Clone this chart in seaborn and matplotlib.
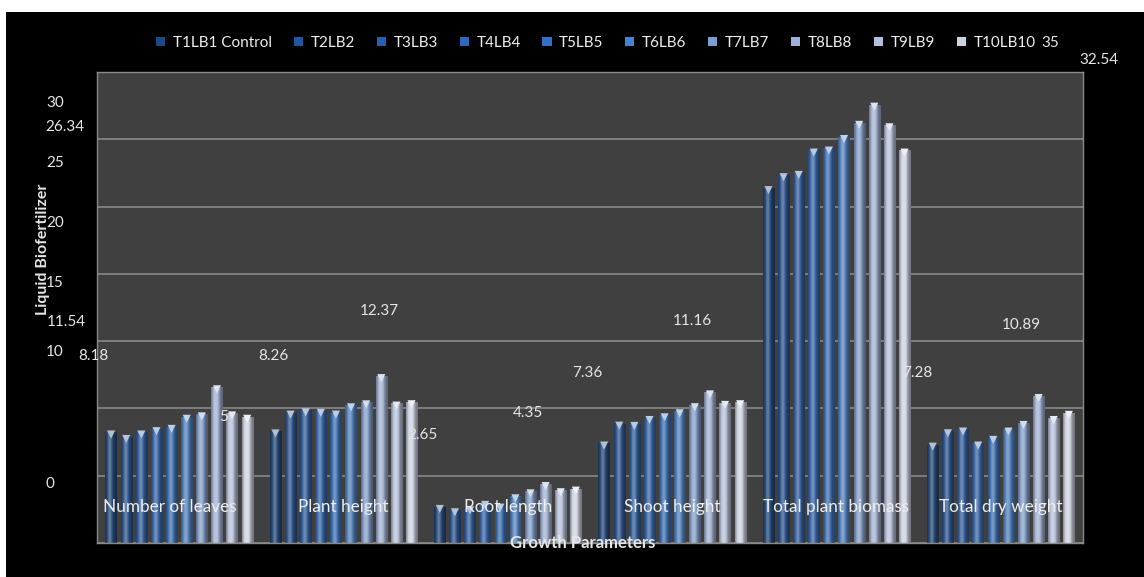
import numpy as np
import pandas as pd
import matplotlib
matplotlib.use("Agg")
import matplotlib.pyplot as plt
from matplotlib.patches import Rectangle, Patch
import matplotlib.transforms as mtransforms
import seaborn as sns

# ---- data -------------------------------------------------------------
treatments = ["T1LB1 Control", "T2LB2", "T3LB3", "T4LB4", "T5LB5",
              "T6LB6", "T7LB7", "T8LB8", "T9LB9", "T10LB10"]
parameters = ["Number of leaves", "Plant height", "Root length",
              "Shoot height", "Total plant biomass", "Total dry weight"]

number_of_leaves = [8.18, 7.85, 8.18, 8.43, 8.60, 9.35, 9.53, 11.54, 9.60, 9.35]
plant_height = [8.26, 9.66, 9.83, 9.79, 9.66, 10.20, 10.42, 12.37, 10.33, 10.43]
root_length = [2.65, 2.40, 2.55, 2.95, 2.75, 3.44, 3.81, 4.35, 3.89, 4.01]
shoot_height = [7.36, 8.84, 8.82, 9.26, 9.46, 9.76, 10.21, 11.16, 10.38, 10.43]
total_biomass = [26.34, 27.30, 27.47, 29.13, 29.28, 30.14, 31.19, 32.54, 31.01, 29.13]
total_dry_weight = [7.28, 8.27, 8.40, 7.36, 7.78, 8.40, 8.89, 10.89, 9.26, 9.64]

axis_numbers = ["30", "25", "20", "15", "10", "5", "0", "35"]

series_colors = ["#1d4a86", "#2456a0", "#295fae", "#2c67ba", "#3170c4",
                 "#4683ce", "#7c9ed3", "#9db1da", "#b3c0de", "#cbd2e3"]

values_by_param = [number_of_leaves, plant_height, root_length,
                   shoot_height, total_biomass, total_dry_weight]

df = pd.DataFrame(
    [(p, t, v[i]) for p, v in zip(parameters, values_by_param)
     for i, t in enumerate(treatments)],
    columns=["parameter", "treatment", "value"],
)

# ---- figure -----------------------------------------------------------
W, H = 1144, 577
plt.rcParams["font.family"] = ["Lato", "DejaVu Sans"]
fig = plt.figure(figsize=(W / 100, H / 100), dpi=100)
fig.patch.set_facecolor("white")
fig.add_artist(Rectangle((6 / W, 0), 1, 1 - 12 / H, transform=fig.transFigure,
                         facecolor="black", edgecolor="none", zorder=-5))


def fx(px):
    return px / W


def fy(py):
    return 1 - py / H


ax = fig.add_axes([fx(97), fy(543), fx(1083) - fx(97), fy(72) - fy(543)])
ax.set_facecolor("#404040")

sns.barplot(data=df, x="parameter", y="value", hue="treatment",
            hue_order=treatments, order=parameters, palette=series_colors,
            width=0.92, gap=0.25, legend=False, ax=ax, zorder=2)

ax.set_ylim(0, 35)
ax.set_xlim(-0.5, len(parameters) - 0.5)
ax.set_yticks(np.arange(0, 36, 5))
ax.set_yticklabels([])
ax.set_xticks(range(len(parameters)))
ax.set_xticklabels([])
ax.tick_params(axis="both", length=0)
ax.grid(axis="y", color="#8f8f8f", linewidth=1.1, zorder=0)
ax.set_axisbelow(True)
for s in ax.spines.values():
    s.set_color("#8a8a8a")
    s.set_linewidth(1.0)
ax.set_xlabel("")
ax.set_ylabel("")


# cylinder-like shading on every bar, with a light cap marker on top
def shade(rgb, f):
    rgb = np.asarray(rgb)
    if f >= 0:
        return rgb + (1 - rgb) * f
    return rgb * (1 + f)


t = np.linspace(0, 1, 40)
profile = -0.45 + 0.72 * np.exp(-((t - 0.4) / 0.3) ** 2)
for patch in list(ax.patches):
    h = patch.get_height()
    if not np.isfinite(h) or h <= 0:
        continue
    x0, w = patch.get_x(), patch.get_width()
    base = np.array(patch.get_facecolor()[:3])
    img = np.array([shade(base, f) for f in profile])[None, :, :]
    img = np.clip(img, 0, 1)
    ax.imshow(img, extent=(x0, x0 + w, 0, h), aspect="auto",
              interpolation="bilinear", zorder=2.5)
    patch.set_facecolor("none")
    ax.scatter([x0 + w / 2], [h - 0.12], marker="v", s=34,
               color=shade(base, 0.65), edgecolor="none", zorder=3)

ax.set_ylim(0, 35)
ax.set_xlim(-0.5, len(parameters) - 0.5)

# category names sit inside the plot, over the bars
cat_tf = mtransforms.blended_transform_factory(ax.transData, fig.transFigure)
cat_shift = [-0.06, 0, 0, 0, 0, 0]
for i, name in enumerate(parameters):
    ax.text(i + cat_shift[i], fy(507), name, transform=cat_tf, color="#eeeeee",
            fontsize=12.3, ha="center", va="center", zorder=6)

# ---- legend -----------------------------------------------------------
handles = [Patch(facecolor=c, edgecolor="none") for c in series_colors]
fig.legend(handles, treatments, loc="center", ncol=10,
           bbox_to_anchor=(fx(596), fy(43)), frameon=False,
           fontsize=11, labelcolor="#eeeeee", handlelength=0.6,
           handleheight=0.6, handletextpad=0.5, columnspacing=1.42)

txt = dict(color="#e6e6e6", fontsize=11, va="center", ha="left")

# numbers along the value axis
for label, (px, py) in zip(axis_numbers,
                           [(46, 103), (46, 163), (46, 223), (46, 283),
                            (46, 352), (219, 417), (46, 484), (1041, 43)]):
    fig.text(fx(px), fy(py), label, zorder=5, **txt)

# control (T1) and best (T8) values
t1_spots = [(78, 356), (258, 356), (407, 435), (572, 373), (45, 127), (902, 373)]
t8_spots = [(47, 322), (360, 311), (513, 413), (673, 321), (1079, 60), (1002, 325)]
for vals, p1, p8 in zip(values_by_param, t1_spots, t8_spots):
    fig.text(fx(p1[0]), fy(p1[1]), f"{vals[0]:.2f}", zorder=5, **txt)
    fig.text(fx(p8[0]), fy(p8[1]), f"{vals[7]:.2f}", zorder=5, **txt)

fig.text(fx(43), fy(249), "Liquid Biofertilizer", rotation=90, color="#e6e6e6",
         fontsize=11.5, fontweight="bold", ha="center", va="center")
fig.text(fx(583), fy(543), "Growth Parameters", color="#e6e6e6",
         fontsize=12, fontweight="bold", ha="center", va="center", zorder=5)

fig.savefig("out.png", dpi=100, facecolor=fig.get_facecolor())
